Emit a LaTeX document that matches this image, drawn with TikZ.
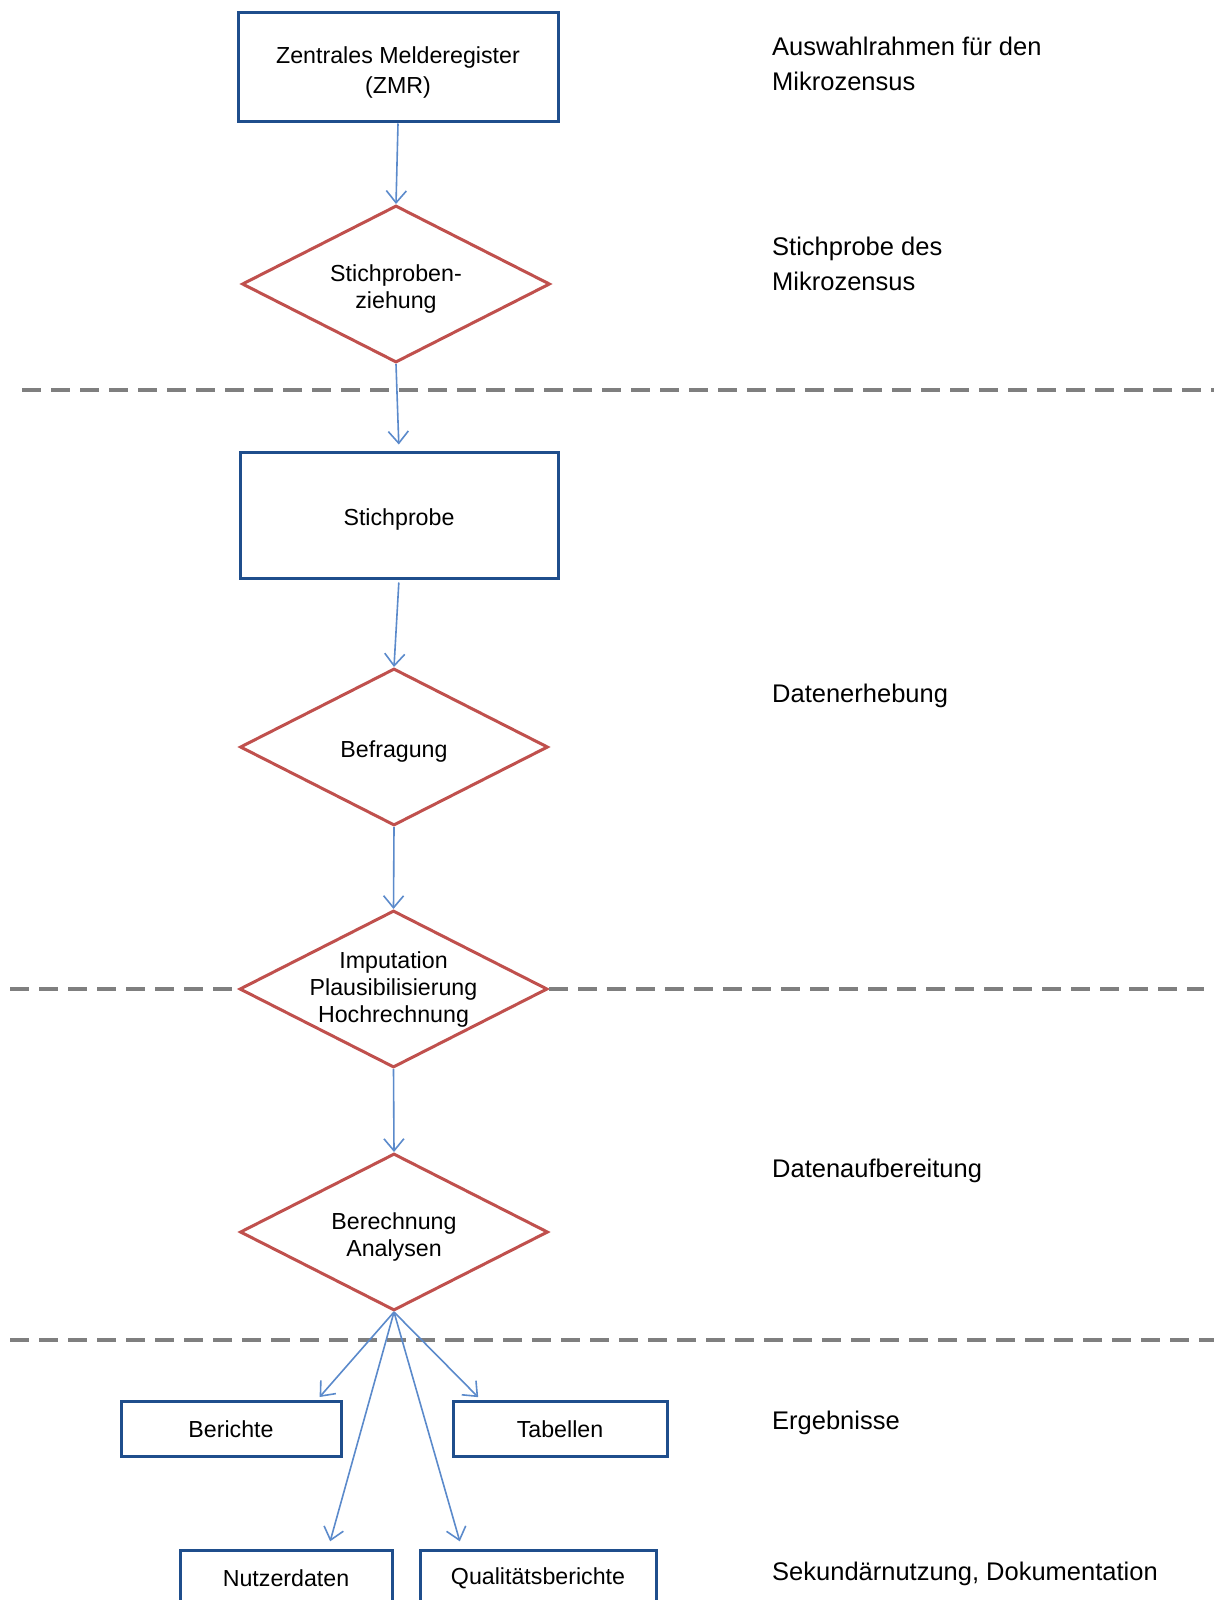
\documentclass[tikz,border=0pt]{standalone}
\usepackage{fontspec}
\setmainfont{Liberation Sans}
\usetikzlibrary{shapes.geometric, arrows.meta}
\definecolor{boxblue}{HTML}{1F4E8C}
\definecolor{diared}{HTML}{C0504D}
\definecolor{arrblue}{HTML}{5B8ACB}
\definecolor{dashgray}{HTML}{7F7F7F}
\newcommand{\tief}{\rule{0pt}{26pt}}

\begin{document}
\begin{tikzpicture}[x=1pt, y=-1pt,
	box/.style={draw=boxblue, line width=3pt, fill=white, align=center, inner sep=0pt, font=\fontsize{23.2}{27}\selectfont},
	dia/.style={diamond, aspect=2, draw=diared, line width=3pt, fill=white, align=center, inner sep=0pt, minimum width=308, minimum height=157, font=\fontsize{23.2}{27}\selectfont},
	arr/.style={draw=arrblue, line width=1.6pt, -{Straight Barb[length=12pt,width=20pt]}},
	divline/.style={draw=dashgray, line width=3.5pt, dash pattern=on 19pt off 10pt},
	lab/.style={anchor=west, align=left, inner sep=0pt, font=\fontsize{25.5}{35}\selectfont}]
	\clip[use as bounding box] (0,0) rectangle (1214,1600);

	% Ablauf
	\node[box, minimum width=320, minimum height=109] (zmr) at (398,67.5) {\tief Zentrales Melderegister\\[3pt](ZMR)};
	\node[dia] (ziehung) at (396,284) {\tief Stichproben-\\ziehung};
	\node[box, minimum width=318, minimum height=126] (stichprobe) at (399,515) {\tief Stichprobe};
	\node[dia] (befragung) at (394,747) {\tief Befragung};
	\node[dia, inner sep=-6pt] (imputation) at (393.5,989) {Imputation\\Plausibilisierung\\Hochrechnung};
	\node[dia] (berechnung) at (394,1232) {\tief Berechnung\\Analysen};
	\node[box, minimum width=220, minimum height=55] (berichte) at (231,1429) {Berichte};
	\node[box, minimum width=214, minimum height=55] (tabellen) at (560,1429) {Tabellen};
	\node[box, minimum width=212, minimum height=55] (nutzerdaten) at (286,1578) {Nutzerdaten};
	\node[box, minimum width=236, minimum height=55] (qualitaet) at (538,1578) {Qualitätsberichte};

	% Phasen
	\node[lab] (rahmen) at (772,63.5) {Auswahlrahmen für den\\Mikrozensus};
	\node[lab] (stpmz) at (772,263.5) {Stichprobe des\\Mikrozensus};
	\node[lab] (erhebung) at (772,696) {Datenerhebung};
	\node[lab] (aufbereitung) at (772,1171) {Datenaufbereitung};
	\node[lab] (ergebnisse) at (772,1423) {Ergebnisse};
	\node[lab] (sekundaer) at (772,1574) {Sekundärnutzung, Dokumentation};

	% Trennlinien
	\coordinate (d1a) at (22,390);
	\coordinate (d1b) at (1214,390);
	\coordinate (d2a) at (10,989);
	\coordinate (d2b) at (1204,989);
	\coordinate (d3a) at (10,1340);
	\coordinate (d3b) at (1214,1340);
	\draw[divline] (d1a) -- (d1b);
	\draw[divline] (d2a) -- (imputation.west);
	\draw[divline] (imputation.east) -- (d2b);
	\draw[divline] (d3a) -- (d3b);

	% Pfeile
	\draw[arr] (zmr.south) -- (ziehung.north);
	\draw[arr, shorten >=6pt] (ziehung.south) -- (stichprobe.north);
	\draw[arr, shorten <=3pt] (stichprobe.south) -- (befragung.north);
	\draw[arr] (befragung.south) -- (imputation.north);
	\draw[arr] (imputation.south) -- (berechnung.north);
	\draw[arr, shorten >=4pt] (berechnung.south) -- ([xshift=86pt]berichte.north);
	\draw[arr, shorten >=4pt] (berechnung.south) -- ([xshift=-79pt]tabellen.north);
	\draw[arr, shorten >=8pt] (berechnung.south) -- ([xshift=42pt]nutzerdaten.north);
	\draw[arr, shorten >=8pt] (berechnung.south) -- ([xshift=-76pt]qualitaet.north);
\end{tikzpicture}
\end{document}
